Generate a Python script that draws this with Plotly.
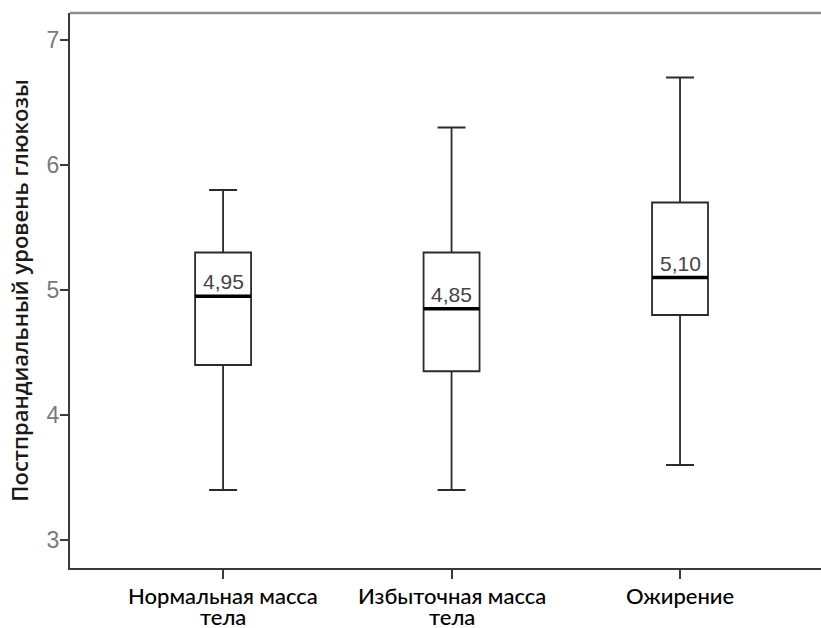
import plotly.graph_objects as go

# Group labels (two lines each) and box-plot statistics (mmol/L)
label_line1 = ["Нормальная масса", "Избыточная масса", "Ожирение"]
label_line2 = ["тела", "тела", ""]
positions = [0, 1, 2]
lower_whisker = [3.4, 3.4, 3.6]
q1 = [4.4, 4.35, 4.8]
median = [4.95, 4.85, 5.10]
q3 = [5.3, 5.3, 5.7]
upper_whisker = [5.8, 6.3, 6.7]
median_labels = ["4,95", "4,85", "5,10"]

box_w = 0.245
line_col = "#2b2b2b"
cat_font = dict(family="Lato, Liberation Sans, sans-serif", size=22,
                color="#000000", weight=500)

fig = go.Figure()

fig.add_trace(go.Box(
    x=positions,
    lowerfence=lower_whisker,
    q1=q1,
    median=median,
    q3=q3,
    upperfence=upper_whisker,
    width=box_w,
    whiskerwidth=0.5,
    fillcolor="rgba(255,255,255,0)",
    line=dict(color=line_col, width=1.8),
    boxpoints=False,
    hoverinfo="skip",
    showlegend=False,
))

# Heavier median bars drawn over each box
for xp, m in zip(positions, median):
    fig.add_trace(go.Scatter(
        x=[xp - box_w / 2, xp + box_w / 2],
        y=[m, m],
        mode="lines",
        line=dict(color="#000000", width=3.5),
        hoverinfo="skip",
        showlegend=False,
    ))

# Median value labels just above each median bar
for xp, m, lab in zip(positions, median, median_labels):
    fig.add_annotation(
        x=xp, y=m, text=lab, showarrow=False,
        yanchor="bottom", yshift=1,
        font=dict(family="Liberation Sans, Arial, sans-serif", size=21, color="#444444"),
    )

# Category labels under the axis, with tight line spacing
for xp, l1, l2 in zip(positions, label_line1, label_line2):
    fig.add_annotation(x=xp, xref="x", y=0, yref="paper", text=l1,
                       showarrow=False, yanchor="middle", yshift=-27, font=cat_font)
    if l2:
        fig.add_annotation(x=xp, xref="x", y=0, yref="paper", text=l2,
                           showarrow=False, yanchor="middle", yshift=-48, font=cat_font)

# Top frame line
fig.add_shape(type="line", xref="paper", yref="paper",
              x0=0, x1=1, y0=1, y1=1,
              line=dict(color="#8c8c8c", width=2.5))

fig.update_layout(
    width=821, height=628,
    margin=dict(l=70, r=0, t=13, b=60),
    paper_bgcolor="white",
    plot_bgcolor="white",
    xaxis=dict(
        range=[-0.67, 2.617],
        automargin=False,
        tickmode="array", tickvals=positions, showticklabels=False,
        showgrid=False, zeroline=False,
        showline=True, linecolor="#3a3a3a", linewidth=2,
        ticks="outside", ticklen=9, tickwidth=1.5, tickcolor="#3a3a3a",
    ),
    yaxis=dict(
        range=[2.776, 7.216],
        automargin=False,
        tickmode="array", tickvals=[3, 4, 5, 6, 7],
        showgrid=False, zeroline=False,
        showline=True, linecolor="#3a3a3a", linewidth=2,
        ticks="outside", ticklen=8, tickwidth=1.5, tickcolor="#3a3a3a",
        ticklabelstandoff=-4,
        tickfont=dict(family="Liberation Sans, Arial, sans-serif", size=23, color="#7a7a7a"),
        title=dict(
            text="Постпрандиальный уровень глюкозы",
            font=dict(family="Open Sans, Liberation Sans, sans-serif", size=22,
                      color="#1a1a1a", weight=600),
            standoff=12,
        ),
    ),
)

fig.write_html("out.html")
